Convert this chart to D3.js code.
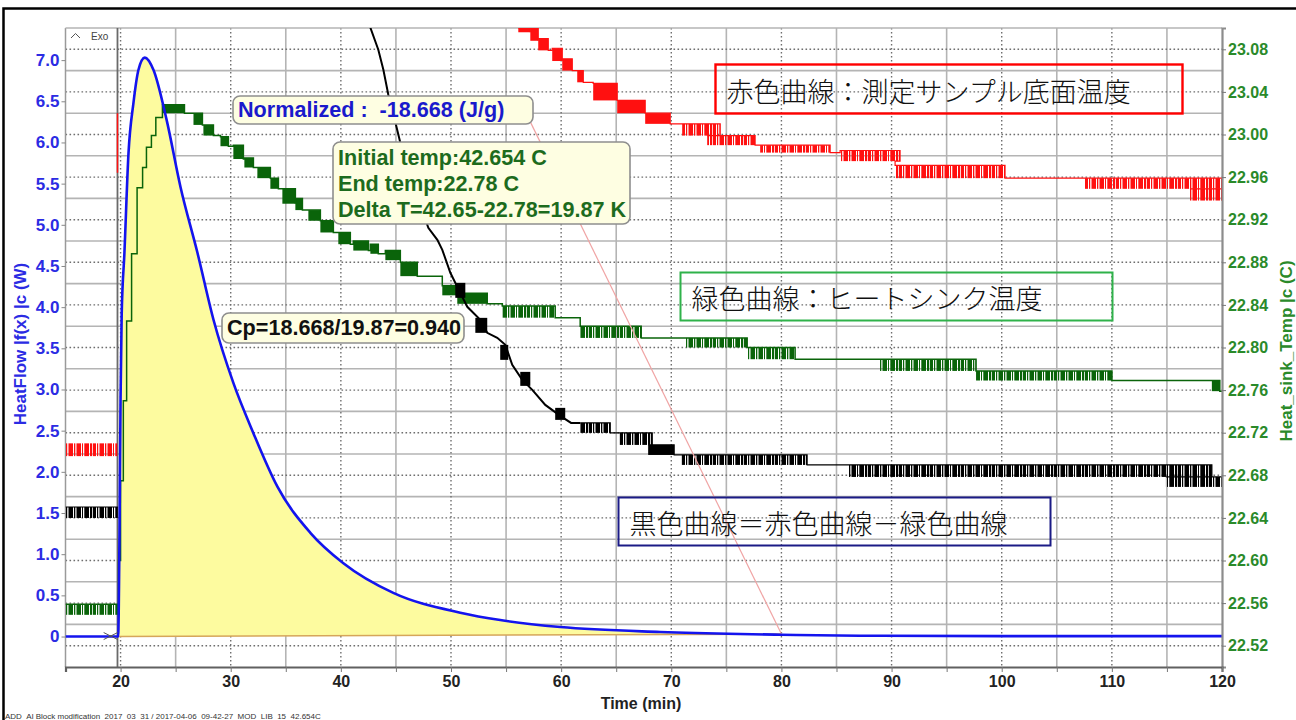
<!DOCTYPE html>
<html lang="ja">
<head>
<meta charset="utf-8">
<title>HeatFlow / Heat_sink_Temp</title>
<script src="https://cdn.jsdelivr.net/npm/d3@7/dist/d3.min.js"></script>
<style>
  html, body { margin: 0; padding: 0; background: #fff; }
  svg { display: block; }
  text { font-family: "Liberation Sans", Arial, Helvetica, sans-serif; }
</style>
</head>
<body>
<svg id="chart" width="1296" height="720"></svg>
<script>
// ---------- tick values ----------
const timeTicks = [20, 30, 40, 50, 60, 70, 80, 90, 100, 110, 120];
const heatFlowTicks = [0, 0.5, 1.0, 1.5, 2.0, 2.5, 3.0, 3.5, 4.0, 4.5, 5.0, 5.5, 6.0, 6.5, 7.0];
const sinkTempTicks = [22.52, 22.56, 22.60, 22.64, 22.68, 22.72, 22.76, 22.80, 22.84, 22.88, 22.92, 22.96, 23.00, 23.04, 23.08];

// ---------- heat flow (W), blue ----------
const flowTime = [15, 19.0, 19.78, 19.9, 20.0, 20.1, 20.35, 20.72, 21.17, 21.62, 22.2, 22.99, 24.17, 25.44, 26.98, 28.43, 30.24, 32.06, 34.24, 37.23, 40.23, 44.76, 50.84, 54.47, 59.92, 68.99, 76.25, 80, 87.1, 100, 120];
const heatFlow = [0, 0, 0, 1.2, 2.9, 3.9, 4.66, 5.87, 6.48, 6.88, 7.03, 6.88, 6.28, 5.46, 4.66, 3.85, 3.08, 2.47, 1.82, 1.26, 0.89, 0.53, 0.29, 0.20, 0.115, 0.055, 0.03, 0.022, 0.01, 0.005, 0.005];

// integration baseline under the peak
const baseTime = [19.78, 80];
const baseFlow = [0, 0.03];

// leader from the result label to the end of integration
const leaderTime = [57.2, 80];
const leaderFlow = [6.25, 0.03];

const eventTime = 19.72;   // sample drop marker
const limitTime = 19.1;    // integration limit cross

// ---------- temperature traces ----------
// bands: [tStart, tEnd, low, high] where the signal flickers between two adjacent levels

// red: sample bottom temperature (right axis)
const redPre = [15, 19.70, 22.698, 22.710];
const redJump = [19.72, 22.964, 23.020];
const redBands = [
  [56.11, 57.20, 23.096, 23.100],
  [57.20, 57.92, 23.088, 23.100],
  [57.92, 58.83, 23.079, 23.090],
  [59.19, 60.10, 23.069, 23.081],
  [60.10, 61.01, 23.060, 23.071],
  [61.46, 62.01, 23.049, 23.060],
  [62.91, 65.09, 23.032, 23.048],
  [65.09, 67.63, 23.020, 23.032],
  [67.63, 69.90, 23.010, 23.020],
  [70.99, 74.44, 22.999, 23.010],
  [73.26, 77.61, 22.990, 22.999],
  [78.07, 84.42, 22.983, 22.990],
  [85.33, 90.77, 22.975, 22.985],
  [90.32, 100.30, 22.959, 22.971],
  [107.56, 120.0, 22.949, 22.959],
  [117.09, 120.0, 22.938, 22.949]
];

// green: heat sink temperature (right axis)
const greenPre = [15, 19.81, 22.549, 22.559];
const greenRiseTime = [19.82, 20.0, 20.25, 20.55, 21.0, 21.5, 22.0, 22.35, 22.8, 23.2];
const greenRiseTemp = [22.60, 22.675, 22.75, 22.825, 22.888, 22.95, 22.969, 22.988, 22.999, 23.016];
const greenBands = [
  [23.80, 25.80, 23.020, 23.028],
  [26.62, 27.43, 23.009, 23.020],
  [27.52, 28.43, 22.999, 23.009],
  [29.07, 29.79, 22.989, 22.998],
  [30.24, 31.15, 22.977, 22.990],
  [31.24, 32.06, 22.969, 22.978],
  [32.42, 33.60, 22.959, 22.969],
  [33.60, 34.33, 22.949, 22.959],
  [34.69, 35.87, 22.935, 22.949],
  [35.87, 36.51, 22.929, 22.940],
  [37.05, 38.14, 22.919, 22.929],
  [38.14, 39.32, 22.908, 22.919],
  [39.77, 40.86, 22.897, 22.908],
  [41.13, 42.50, 22.891, 22.900],
  [42.68, 43.40, 22.888, 22.897],
  [44.04, 45.40, 22.882, 22.891],
  [45.40, 46.94, 22.867, 22.880],
  [49.21, 50.57, 22.849, 22.858],
  [50.57, 53.29, 22.841, 22.851],
  [54.66, 59.46, 22.828, 22.839],
  [61.73, 67.27, 22.809, 22.820],
  [71.26, 76.89, 22.800, 22.809],
  [76.89, 81.24, 22.789, 22.800],
  [88.87, 97.67, 22.778, 22.789],
  [97.67, 110.01, 22.769, 22.778],
  [119.08, 119.8, 22.759, 22.769]
];

// black: red minus green (drawn against the left scale)
const blackPre = [15, 19.75, 1.440, 1.573];
const blackDropTime = [42.68, 43.40, 43.86, 44.31, 44.76, 45.40, 46.67, 47.94, 48.76, 49.21, 49.94, 50.84, 51.48, 52.66, 53.29, 54.20, 54.93, 55.56, 56.47, 57.38, 58.56, 59.92, 60.9, 61.73];
const blackDropVal = [7.394, 7.126, 6.883, 6.580, 6.35, 5.996, 5.45, 4.964, 4.818, 4.696, 4.417, 4.174, 4.004, 3.846, 3.688, 3.627, 3.542, 3.299, 3.117, 2.996, 2.813, 2.680, 2.594, 2.594];
const blackBands = [
  [50.39, 51.30, 4.113, 4.295],
  [52.21, 53.29, 3.688, 3.870],
  [54.47, 55.20, 3.360, 3.542],
  [56.29, 57.20, 3.044, 3.214],
  [59.46, 60.37, 2.631, 2.777]
];
const blackTailBands = [
  [61.73, 64.46, 2.473, 2.594],
  [65.27, 68.27, 2.327, 2.473],
  [67.90, 70.26, 2.205, 2.327],
  [70.90, 82.33, 2.084, 2.205],
  [86.05, 119.08, 1.938, 2.084],
  [114.91, 120.0, 1.817, 1.938]
];

// ---------- annotation texts ----------
const normalizedText = "Normalized :  -18.668 (J/g)";
const tempLines = ["Initial temp:42.654 C", "End temp:22.78 C", "Delta T=42.65-22.78=19.87 K"];
const cpText = "Cp=18.668/19.87=0.940";
const noteRed = "赤色曲線：測定サンプル底面温度";
const noteGreen = "緑色曲線：ヒートシンク温度";
const noteBlack = "黒色曲線＝赤色曲線－緑色曲線";
const footerText = "ADD_Al Block modification_2017_03_31 / 2017-04-06_09-42-27_MOD_LIB_15_42.654C";

// ---------- layout ----------
const svg = d3.select("#chart");
const P = { left: 65.5, right: 1222, top: 28, bottom: 667 };

const x = d3.scaleLinear().domain([15, 120]).range([P.left, P.right]);
const yFlow = d3.scaleLinear().domain([-0.37, 7.39]).range([P.bottom, P.top]);
const yTemp = d3.scaleLinear().domain([22.50, 23.10]).range([P.bottom, P.top]);

const RED = "#ff1010", GREEN = "#0a640a", BLACK = "#000000";

const defs = svg.append("defs");
defs.append("clipPath").attr("id", "plotClip")
  .append("rect").attr("x", P.left).attr("y", P.top)
  .attr("width", P.right - P.left).attr("height", P.bottom - P.top);

// flicker texture: dense, irregular vertical strokes where the signal toggles between two levels
const strokeRuns = [[0, 3], [4, 5.2], [6.5, 11], [12, 13.3], [14.5, 19], [20, 21], [22.3, 27], [28, 30.2]];
[["red", RED], ["green", GREEN], ["black", BLACK]].forEach(([id, col]) => {
  const p = defs.append("pattern").attr("id", "flick-" + id)
    .attr("patternUnits", "userSpaceOnUse").attr("width", 31).attr("height", 40);
  p.selectAll("rect").data(strokeRuns).join("rect")
    .attr("x", d => d[0]).attr("y", 0).attr("width", d => d[1] - d[0]).attr("height", 40).attr("fill", col);
});

// ---------- grid ----------
const grid = svg.append("g");
const solidGridColor = "#b4b4b4", dotGridColor = "#6e6e6e";

grid.selectAll(".hs").data(sinkTempTicks.map(v => v + 0.02).filter(v => v < 23.095)).join("line")
  .attr("x1", P.left).attr("x2", P.right)
  .attr("y1", d => yTemp(d)).attr("y2", d => yTemp(d))
  .attr("stroke", solidGridColor).attr("stroke-width", 1.6);
grid.selectAll(".vs").data(timeTicks.map(t => t + 5).filter(t => t < 120)).join("line")
  .attr("x1", d => x(d)).attr("x2", d => x(d))
  .attr("y1", P.top).attr("y2", P.bottom)
  .attr("stroke", solidGridColor).attr("stroke-width", 1.6);
grid.selectAll(".hd").data(sinkTempTicks).join("line")
  .attr("x1", P.left).attr("x2", P.right)
  .attr("y1", d => yTemp(d)).attr("y2", d => yTemp(d))
  .attr("stroke", dotGridColor).attr("stroke-width", 1.4).attr("stroke-dasharray", "1.6,2.4");
grid.selectAll(".vd").data(timeTicks.filter(t => t < 120)).join("line")
  .attr("x1", d => x(d)).attr("x2", d => x(d))
  .attr("y1", P.top).attr("y2", P.bottom)
  .attr("stroke", dotGridColor).attr("stroke-width", 1.4).attr("stroke-dasharray", "1.6,2.4");

// plot frame
svg.append("line").attr("x1", P.left).attr("x2", P.left).attr("y1", P.top).attr("y2", P.bottom)
  .attr("stroke", "#9a9a9a").attr("stroke-width", 1.5);
svg.append("line").attr("x1", P.left).attr("x2", P.right).attr("y1", P.top).attr("y2", P.top)
  .attr("stroke", "#b4b4b4").attr("stroke-width", 1.5);

// ---------- traces ----------
const traces = svg.append("g").attr("clip-path", "url(#plotClip)");

// sample drop marker
traces.append("line")
  .attr("x1", x(eventTime)).attr("x2", x(eventTime))
  .attr("y1", P.top).attr("y2", P.bottom)
  .attr("stroke", "#6a6a6a").attr("stroke-width", 1.8);

// yellow integrated area
const baseAt = d3.scaleLinear().domain(baseTime).range(baseFlow);
const peakPts = flowTime.map((t, i) => [t, heatFlow[i]]).filter(p => p[0] >= baseTime[0] && p[0] <= baseTime[1]);
traces.append("path").datum(peakPts)
  .attr("d", d3.area().curve(d3.curveMonotoneX)
    .x(d => x(d[0])).y0(d => yFlow(baseAt(d[0]))).y1(d => yFlow(d[1])))
  .attr("fill", "#fdfb9f");
traces.append("path").datum(baseTime.map((t, i) => [t, baseFlow[i]]))
  .attr("d", d3.line().x(d => x(d[0])).y(d => yFlow(d[1])))
  .attr("fill", "none").attr("stroke", "#d6a65a").attr("stroke-width", 1.5);

// long bands read as flicker, short ones as solid blocks
function drawBands(g, bands, yScale, color, id) {
  g.append("g").selectAll("rect").data(bands).join("rect")
    .attr("x", d => x(d[0]))
    .attr("width", d => Math.max(1, x(d[1]) - x(d[0])))
    .attr("y", d => yScale(d[3]))
    .attr("height", d => Math.max(1, yScale(d[2]) - yScale(d[3])))
    .attr("fill", d => (x(d[1]) - x(d[0]) > 30 ? `url(#flick-${id})` : color));
}
// step trace through bands: enters on the high level, leaves on the low level
function bandSteps(bands) {
  const pts = [];
  bands.forEach(b => { pts.push([b[0], b[3]]); pts.push([b[1], b[2]]); });
  return pts;
}
function stepPath(g, pts, yScale, color, w) {
  g.append("path").datum(pts)
    .attr("d", d3.line().curve(d3.curveStepAfter).x(d => x(d[0])).y(d => yScale(d[1])))
    .attr("fill", "none").attr("stroke", color).attr("stroke-width", w);
}

// red
drawBands(traces, [redPre], yTemp, RED, "red");
drawBands(traces, redBands, yTemp, RED, "red");
stepPath(traces, bandSteps(redBands).concat([[120, redBands[redBands.length - 1][2]]]), yTemp, RED, 1.2);
traces.append("line")
  .attr("x1", x(redJump[0])).attr("x2", x(redJump[0]))
  .attr("y1", yTemp(redJump[1])).attr("y2", yTemp(redJump[2]))
  .attr("stroke", RED).attr("stroke-width", 1.5);

// green
drawBands(traces, [greenPre], yTemp, GREEN, "green");
drawBands(traces, greenBands, yTemp, GREEN, "green");
const greenPts = [[greenPre[0], greenPre[3]], [greenPre[1], greenPre[3]]]
  .concat(greenRiseTime.map((t, i) => [t, greenRiseTemp[i]]))
  .concat(bandSteps(greenBands))
  .concat([[120, greenBands[greenBands.length - 1][2]]]);
stepPath(traces, greenPts, yTemp, GREEN, 1.5);

// black
drawBands(traces, [blackPre], yFlow, BLACK, "black");
drawBands(traces, blackBands, yFlow, BLACK, "black");
drawBands(traces, blackTailBands, yFlow, BLACK, "black");
stepPath(traces, [[blackPre[0], blackPre[3]], [blackPre[1], blackPre[3]]], yFlow, BLACK, 1.2);
traces.append("path").datum(blackDropTime.map((t, i) => [t, blackDropVal[i]]))
  .attr("d", d3.line().x(d => x(d[0])).y(d => yFlow(d[1])))
  .attr("fill", "none").attr("stroke", BLACK).attr("stroke-width", 2);
stepPath(traces, bandSteps(blackTailBands).concat([[120, blackTailBands[blackTailBands.length - 1][2]]]), yFlow, BLACK, 1.2);

// leader line
traces.append("path").datum(leaderTime.map((t, i) => [t, leaderFlow[i]]))
  .attr("d", d3.line().x(d => x(d[0])).y(d => yFlow(d[1])))
  .attr("fill", "none").attr("stroke", "#f0a4a4").attr("stroke-width", 1.2);

// heat flow curve
traces.append("path").datum(flowTime.map((t, i) => [t, heatFlow[i]]))
  .attr("d", d3.line().curve(d3.curveMonotoneX).x(d => x(d[0])).y(d => yFlow(d[1])))
  .attr("fill", "none").attr("stroke", "#1414ee").attr("stroke-width", 2.6)
  .attr("stroke-linejoin", "round");

// integration limit cross
const lx = x(limitTime), ly = yFlow(0);
traces.append("path")
  .attr("d", `M${lx - 7},${ly - 4}L${lx + 7},${ly + 3}M${lx - 7},${ly + 3}L${lx + 7},${ly - 4}`)
  .attr("fill", "none").attr("stroke", "#555").attr("stroke-width", 1);

// ---------- axes ----------
const leftAxis = svg.append("g").attr("transform", `translate(${P.left},0)`)
  .call(d3.axisLeft(yFlow).tickValues(heatFlowTicks)
    .tickFormat(d => d === 0 ? "0" : d3.format(".1f")(d)).tickSize(4).tickPadding(2));
leftAxis.select(".domain").remove();
leftAxis.selectAll("line").attr("stroke", "#888");
leftAxis.selectAll("text").attr("fill", "#2b2be3").attr("font-size", 17).attr("font-weight", "bold")
  .style("font-family", "'Liberation Sans', Arial, sans-serif");

const rightAxis = svg.append("g").attr("transform", `translate(${P.right},0)`)
  .call(d3.axisRight(yTemp).tickValues(sinkTempTicks).tickFormat(d3.format(".2f")).tickSize(4).tickPadding(2));
rightAxis.select(".domain").attr("stroke", "#8c8c8c").attr("stroke-width", 2.2);
rightAxis.selectAll("line").attr("stroke", "#777");
rightAxis.selectAll("text").attr("fill", "#2a8a2a").attr("font-size", 16).attr("font-weight", "bold")
  .style("font-family", "'Liberation Sans', Arial, sans-serif");

const bottomAxis = svg.append("g").attr("transform", `translate(0,${P.bottom})`)
  .call(d3.axisBottom(x).tickValues(timeTicks).tickFormat(d3.format("d")).tickSize(5).tickPadding(4));
bottomAxis.select(".domain").attr("stroke", "#606060").attr("stroke-width", 2.2);
bottomAxis.selectAll("line").attr("stroke", "#777");
bottomAxis.selectAll("text").attr("fill", "#222").attr("font-size", 16).attr("font-weight", "bold")
  .style("font-family", "'Liberation Sans', Arial, sans-serif");
svg.append("g").attr("transform", `translate(0,${P.bottom})`)
  .call(d3.axisBottom(x).tickValues(timeTicks.map(t => t + 5).filter(t => t < 120)).tickFormat("").tickSize(5))
  .call(g => g.select(".domain").remove())
  .selectAll("line").attr("stroke", "#777");

svg.append("text").attr("x", 641).attr("y", 709).attr("text-anchor", "middle")
  .attr("font-size", 16).attr("font-weight", "bold").attr("fill", "#222").text("Time (min)");
svg.append("text").attr("transform", "translate(26,344) rotate(-90)").attr("text-anchor", "middle")
  .attr("font-size", 17).attr("font-weight", "bold").attr("fill", "#2b2be3").text("HeatFlow |f(x) |c (W)");
svg.append("text").attr("transform", "translate(1292,351) rotate(-90)").attr("text-anchor", "middle")
  .attr("font-size", 17).attr("font-weight", "bold").attr("fill", "#2a8a2a").text("Heat_sink_Temp |c (C)");

// Exo direction mark
svg.append("path").attr("d", "M71,38L75.5,33.5L80,38").attr("fill", "none").attr("stroke", "#555").attr("stroke-width", 1);
svg.append("text").attr("x", 91).attr("y", 40).attr("font-size", 10).attr("fill", "#444").text("Exo");

// ---------- result labels ----------
function noteBox(bx, by, bw, bh, lines, color, baseY, lineH) {
  const g = svg.append("g");
  g.append("rect").attr("x", bx).attr("y", by).attr("width", bw).attr("height", bh)
    .attr("rx", 7).attr("ry", 7).attr("fill", "#fefee2").attr("stroke", "#8e8e8e").attr("stroke-width", 1.6);
  g.selectAll("text").data(lines).join("text")
    .attr("x", bx + 5).attr("y", (d, i) => baseY + i * lineH)
    .attr("font-size", 21.6).attr("font-weight", "bold").attr("fill", color)
    .style("white-space", "pre").text(d => d);
}
noteBox(233, 96, 300, 28, [normalizedText], "#1a1acc", 117, 0);
noteBox(333, 142, 297, 82, tempLines, "#1d6b1d", 165, 26);
noteBox(222, 313, 242, 30, [cpText], "#111", 335, 0);

// ---------- legend notes ----------
function legendNote(bx, by, bw, bh, text, stroke, sw) {
  const g = svg.append("g");
  g.append("rect").attr("x", bx).attr("y", by).attr("width", bw).attr("height", bh)
    .attr("fill", "none").attr("stroke", stroke).attr("stroke-width", sw);
  g.append("text").attr("x", bx + 11).attr("y", by + bh / 2 + 1).attr("dominant-baseline", "central")
    .attr("font-size", 27).attr("fill", "#111")
    .style("font-family", "'Noto Sans CJK JP', 'Noto Sans CJK SC', sans-serif").style("font-weight", 300)
    .text(text);
}
legendNote(715.5, 64.5, 467, 49, noteRed, "#ff0000", 2.4);
legendNote(680.5, 272.5, 432, 48, noteGreen, "#2fb24a", 2);
legendNote(618.5, 497.5, 432, 48, noteBlack, "#1b1b86", 2);

// ---------- footer and outer frame ----------
svg.append("text").attr("x", 5).attr("y", 719).attr("font-size", 8).attr("fill", "#333").text(footerText);
svg.append("path").attr("d", "M3.5,722V8.5H1300").attr("fill", "none").attr("stroke", "#000").attr("stroke-width", 2.5);
</script>
</body>
</html>
